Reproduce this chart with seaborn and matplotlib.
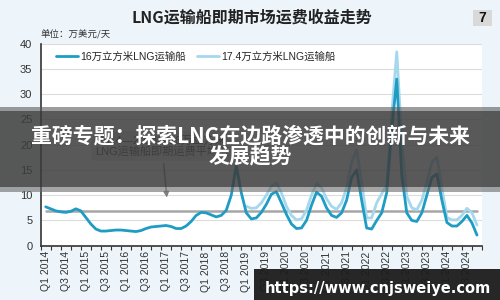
import numpy as np
import pandas as pd
import matplotlib
matplotlib.use("Agg")
import matplotlib.pyplot as plt
import seaborn as sns
from matplotlib.patches import Rectangle

# ---------------- data ----------------
series_names = ["16万立方米LNG运输船", "17.4万立方米LNG运输船"]

# quarter index: 0 = Q1 2014 ... 43 = Q4 2024, read every half quarter
x_16 = np.arange(0, 43.01, 0.5)
rate_16 = [7.7, 7.3, 6.9, 6.7, 6.6, 6.8, 7.3, 6.9, 5.6, 4.3,
           3.3, 2.9, 2.9, 3.0, 3.1, 3.1, 3.0, 2.9, 2.8, 3.0,
           3.4, 3.7, 3.8, 3.9, 4.0, 3.8, 3.4, 3.4, 3.9, 4.8,
           6.0, 6.6, 6.5, 6.1, 5.7, 6.0, 7.0, 10.0, 15.8, 10.5,
           6.5, 5.3, 5.5, 6.6, 8.2, 10.2, 10.7, 8.5, 6.2, 4.3,
           3.4, 3.5, 5.0, 8.0, 10.6, 9.8, 7.5, 6.0, 5.6, 6.5,
           9.0, 13.5, 15.0, 9.0, 3.5, 3.3, 5.0, 6.5, 10.5, 23.0,
           33.0, 14.0, 6.5, 5.0, 4.8, 6.5, 10.0, 13.5, 14.2, 9.0,
           4.6, 3.9, 3.9, 4.8, 6.0, 4.5, 2.1]

x_174 = np.arange(20, 43.01, 0.5)
rate_174 = [7.8, 7.4, 7.5, 8.5, 10.0, 11.8, 12.4, 10.5, 7.8, 6.0,
            5.1, 5.3, 7.0, 10.0, 12.3, 11.5, 9.3, 7.8, 7.2, 8.5,
            11.5, 16.5, 19.0, 12.5, 5.5, 5.5, 8.5, 10.3, 12.0, 26.0,
            38.4, 21.0, 9.8, 7.5, 7.1, 9.0, 12.5, 16.5, 17.6, 11.5,
            5.6, 5.1, 5.1, 6.0, 7.4, 6.5, 4.1]

average_16 = 6.85
average_span = [0, 43]

tick_positions = list(range(0, 44, 2))
tick_labels = ["Q1 2014", "Q3 2014", "Q1 2015", "Q3 2015", "Q1 2016", "Q3 2016",
               "Q1 2017", "Q3 2017", "Q1 2018", "Q3 2018", "Q1 2019", "Q3 2019",
               "Q1 2020", "Q3 2020", "Q1 2021", "Q3 2021", "Q1 2022", "Q3 2022",
               "Q1 2023", "Q3 2023", "Q1 2024", "Q3 2024"]
y_ticks = [0, 5, 10, 15, 20, 25, 30, 35, 40]

df = pd.concat([
    pd.DataFrame({"quarter": x_16, "rate": rate_16, "ship": series_names[0]}),
    pd.DataFrame({"quarter": x_174, "rate": rate_174, "ship": series_names[1]}),
], ignore_index=True)

# ---------------- style ----------------
sns.set_theme(style="white")
plt.rcParams["font.family"] = ["Liberation Sans", "Noto Sans CJK SC", "DejaVu Sans"]
plt.rcParams["axes.unicode_minus"] = False

BG = "#edf5fa"
DARK = "#1e9cc3"
LIGHT = "#a5d8ec"

fig = plt.figure(figsize=(5, 3), dpi=100, facecolor=BG)
ax = fig.add_axes([0.0814, 0.181, 0.8826, 0.6733])
ax.set_facecolor("white")

sns.lineplot(data=df, x="quarter", y="rate", hue="ship",
             hue_order=series_names, palette={series_names[0]: DARK, series_names[1]: LIGHT},
             linewidth=2.0, ax=ax, sort=True, estimator=None)
ax.lines[0].set_zorder(4)
ax.lines[1].set_zorder(3)

# average line
ax.plot(average_span, [average_16, average_16], color="#a6a6a6", lw=1.8, zorder=2.5)

ax.set_xlim(-0.5, 43.5)
ax.set_ylim(0, 40)
ax.set_yticks(y_ticks)
ax.set_xticks(tick_positions)
ax.set_xticklabels(tick_labels, rotation=90, fontsize=7.5, color="#333333")
ax.set_xticks(np.arange(-0.5, 43.6, 1), minor=True)
ax.tick_params(axis="x", which="major", length=0, pad=4)
ax.tick_params(axis="x", which="minor", length=3, width=0.8, color="#333333", direction="out", bottom=True)
ax.tick_params(axis="y", length=0, labelsize=8, labelcolor="#333333", pad=6)
ax.set_xlabel("")
ax.set_ylabel("")
ax.yaxis.grid(True, color="#dcdcdc", lw=0.8)
ax.set_axisbelow(True)
for s in ["top", "right"]:
    ax.spines[s].set_visible(False)
for s in ["left", "bottom"]:
    ax.spines[s].set_color("#333333")
    ax.spines[s].set_linewidth(1.2)

sns.move_legend(ax, "center left", bbox_to_anchor=(0.025, 0.934), ncol=2, frameon=False,
                title=None, fontsize=7.5, handlelength=2.1, handletextpad=0.2,
                columnspacing=1.1, borderaxespad=0)
for lh in ax.get_legend().get_lines():
    lh.set_linewidth(2.0)

# annotation for the average line
ax.annotate("2014—2024年16万立方米\nLNG运输船即期运费平均值", xy=(12.1, 9.0), xytext=(11.6, 19.8),
            ha="center", va="center", fontsize=8, color="#404040", linespacing=1.05,
            bbox=dict(boxstyle="round,pad=0.35", fc="#e4e4e4", ec="none"),
            arrowprops=dict(arrowstyle="-|>", color="#7f7f7f", lw=1.0, mutation_scale=8),
            zorder=5)

# title & unit
fig.text(0.504, 0.94, "LNG运输船即期市场运费收益走势", ha="center", va="center",
         fontsize=11.5, fontweight="bold", color="#222222", family=["Noto Sans CJK SC"])
fig.text(0.081, 0.883, "单位：万美元/天", ha="left", va="center", fontsize=6.8,
         color="#333333", family=["Noto Sans CJK SC"])
fig.add_artist(Rectangle((0.946, 0.913), 0.038, 0.055, transform=fig.transFigure,
                         fc="#d9d9d9", ec="none"))
fig.text(0.965, 0.94, "7", ha="center", va="center", fontsize=10, fontweight="bold", color="#111111")

# overlay banner
fig.add_artist(Rectangle((0, 1 - 111 / 300), 1, (111 - 107) / 300, transform=fig.transFigure,
                         fc="#5a5a5a", ec="none", alpha=0.6, zorder=10))
fig.add_artist(Rectangle((0, 1 - 187 / 300), 1, (187 - 111) / 300, transform=fig.transFigure,
                         fc="#3c3c3c", ec="none", alpha=0.85, zorder=10))
fig.add_artist(Rectangle((0, 1 - 192 / 300), 1, (192 - 187) / 300, transform=fig.transFigure,
                         fc="#6a6a6a", ec="none", alpha=0.6, zorder=10))
fig.text(0.5, 1 - 136 / 300, "重磅专题：探索LNG在边路渗透中的创新与未来", ha="center", va="center",
         fontsize=15, fontweight="bold", color="white", family=["Noto Sans CJK SC"], zorder=11)
fig.text(0.5, 1 - 157 / 300, "发展趋势", ha="center", va="center",
         fontsize=15, fontweight="bold", color="white", family=["Noto Sans CJK SC"], zorder=11)

# watermark
fig.add_artist(Rectangle((254 / 500, 0), 1 - 254 / 500, 31 / 300, transform=fig.transFigure,
                         fc="#1c1c1c", ec="none", alpha=0.95, zorder=12))
fig.text(378 / 500, 1 - 288 / 300, "https://www.cnjsweiye.com", ha="center", va="center",
         fontsize=10.5, fontweight="bold", color="white", family=["DejaVu Sans"], zorder=13)

fig.savefig("out.png", dpi=100, facecolor=BG)
